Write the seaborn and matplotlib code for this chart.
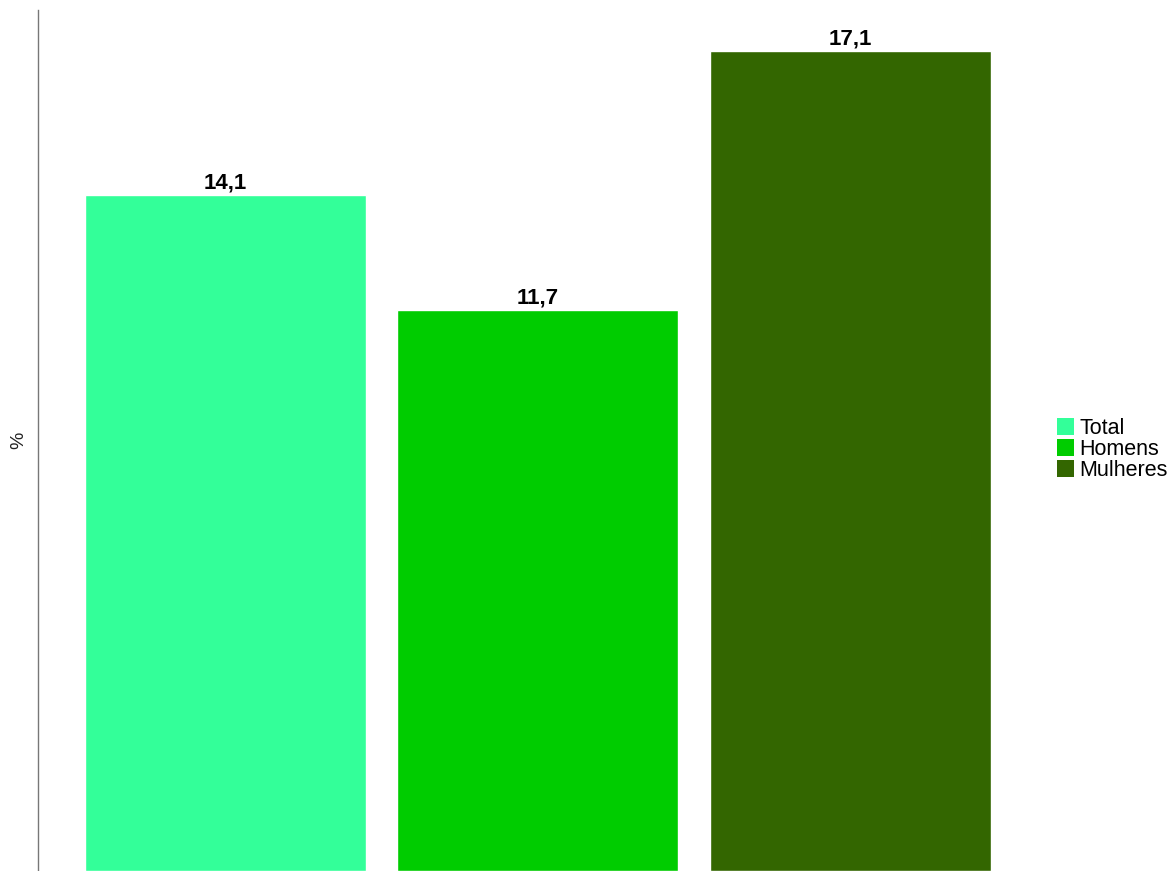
import matplotlib
matplotlib.use("Agg")
import matplotlib.pyplot as plt
import seaborn as sns
import pandas as pd
from matplotlib.patches import Patch

categories = ["Total", "Homens", "Mulheres"]
values = [14.1, 11.7, 17.1]
colors = ["#33FF99", "#00CC00", "#336600"]

sns.set_style("white")
plt.rcParams['font.family'] = ['Liberation Sans', 'DejaVu Sans']
plt.rcParams['text.color'] = 'black'

df = pd.DataFrame({"cat": categories, "val": values})

fig = plt.figure(figsize=(11.73, 8.71), dpi=100)
ax = fig.add_axes([38/1173, 0.0, (1037.7-38)/1173, (871-10)/871])

sns.barplot(data=df, x="cat", y="val", hue="cat", order=categories, hue_order=categories,
            palette=dict(zip(categories, colors)), width=0.9, dodge=False,
            legend=False, ax=ax, saturation=1)

ax.set_xlim(-0.6, 2.6)
ax.set_ylim(0, max(values) * 1.05)

for c, v in zip(ax.containers, values):
    ax.bar_label(c, labels=[f"{v:.1f}".replace(".", ",")], padding=1,
                 fontsize=16, fontweight="bold", color="black")

for s in ["top", "right", "bottom"]:
    ax.spines[s].set_visible(False)
ax.spines["left"].set_color("#777777")
ax.spines["left"].set_linewidth(1.0)
ax.set_xticks([])
ax.set_yticks([])
ax.set_xlabel("")
ax.set_ylabel("%", fontsize=14, labelpad=8, color="#222222")

handles = [Patch(facecolor=col, edgecolor="none") for col in colors]
leg = ax.legend(handles, categories, loc="center left", bbox_to_anchor=(1.015, 0.49),
                frameon=False, fontsize=15.5, handlelength=0.8, handleheight=0.85,
                handletextpad=0.25, labelspacing=0.0, borderaxespad=0.0, borderpad=0.2)
for t in leg.get_texts():
    t.set_color("black")

fig.savefig("out.png", dpi=100)
